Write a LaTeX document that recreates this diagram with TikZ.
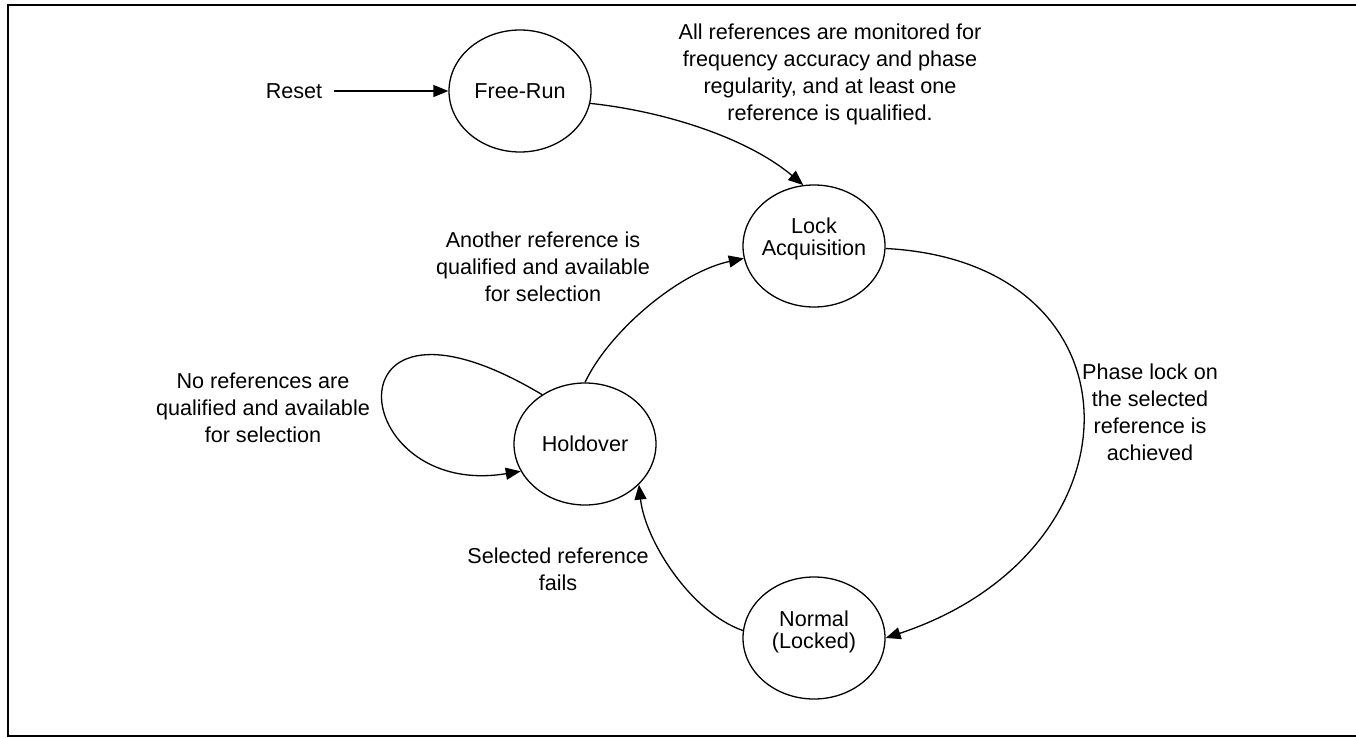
\documentclass[tikz,border=0pt]{standalone}
\usepackage{fontspec}
\setmainfont{Liberation Sans}
\usetikzlibrary{shapes.geometric,arrows.meta}
\tikzset{
  state/.style={ellipse, draw, line width=1.3pt, minimum width=142pt, minimum height=122pt, inner sep=0pt},
  lbl/.style={align=center, font=\fontsize{21.6}{27}\selectfont, inner sep=0pt},
  stxt/.style={align=center, font=\fontsize{21.6}{22}\selectfont, inner sep=0pt},
  conn/.style={line width=1.3pt, -{Triangle[length=15pt,width=12pt]}},
  frame/.style={line width=1.6pt}
}
\begin{document}
\begin{tikzpicture}[x=1pt,y=-1pt]
\useasboundingbox (0,0) rectangle (1356,738);
\draw[frame] (1357,5) -- (8,5) -- (8,736) -- (1357,736);

% states
\node[state] (fr) at (520,91) {};
\node[stxt] (frt) at (fr.center) {Free-Run};
\node[state] (la) at (814,246) {};
\node[stxt] (lat) at ([yshift=7pt]la.center) {Lock\\Acquisition};
\node[state] (ho) at (585,444) {};
\node[stxt] (hot) at (ho.center) {Holdover};
\node[state] (no) at (814,638) {};
\node[stxt] (not) at ([yshift=6pt]no.center) {Normal\\(Locked)};

% labels
\node[lbl] (reset) at (294,91) {Reset};
\node[lbl] (l1) at (830,74) {All references are monitored for\\frequency accuracy and phase\\regularity, and at least one\\reference is qualified.};
\node[lbl] (l2) at (543,267) {Another reference is\\qualified and available\\for selection};
\node[lbl] (l3) at (263,408) {No references are\\qualified and available\\for selection};
\node[lbl] (l4) at (1150,412) {Phase lock on\\the selected\\reference is\\achieved};
\node[lbl] (l5) at (558,569) {Selected reference\\fails};

% connectors
\draw[conn, shorten <=12pt] (reset) -- (fr);
\draw[conn] (fr.-10) .. controls (670,112) and (750,140) .. (la.100);
\draw[conn] (la.-2) .. controls (1148,262) and (1148,551) .. (no.east);
\draw[conn] (no.174) .. controls (690,612) and (645,540) .. (ho.-37);
\draw[conn] (ho.north) .. controls (610,330) and (680,272) .. (la.190);
\draw[conn] (ho.131) .. controls (322,263) and (346,500) .. (ho.-157);
\end{tikzpicture}
\end{document}
